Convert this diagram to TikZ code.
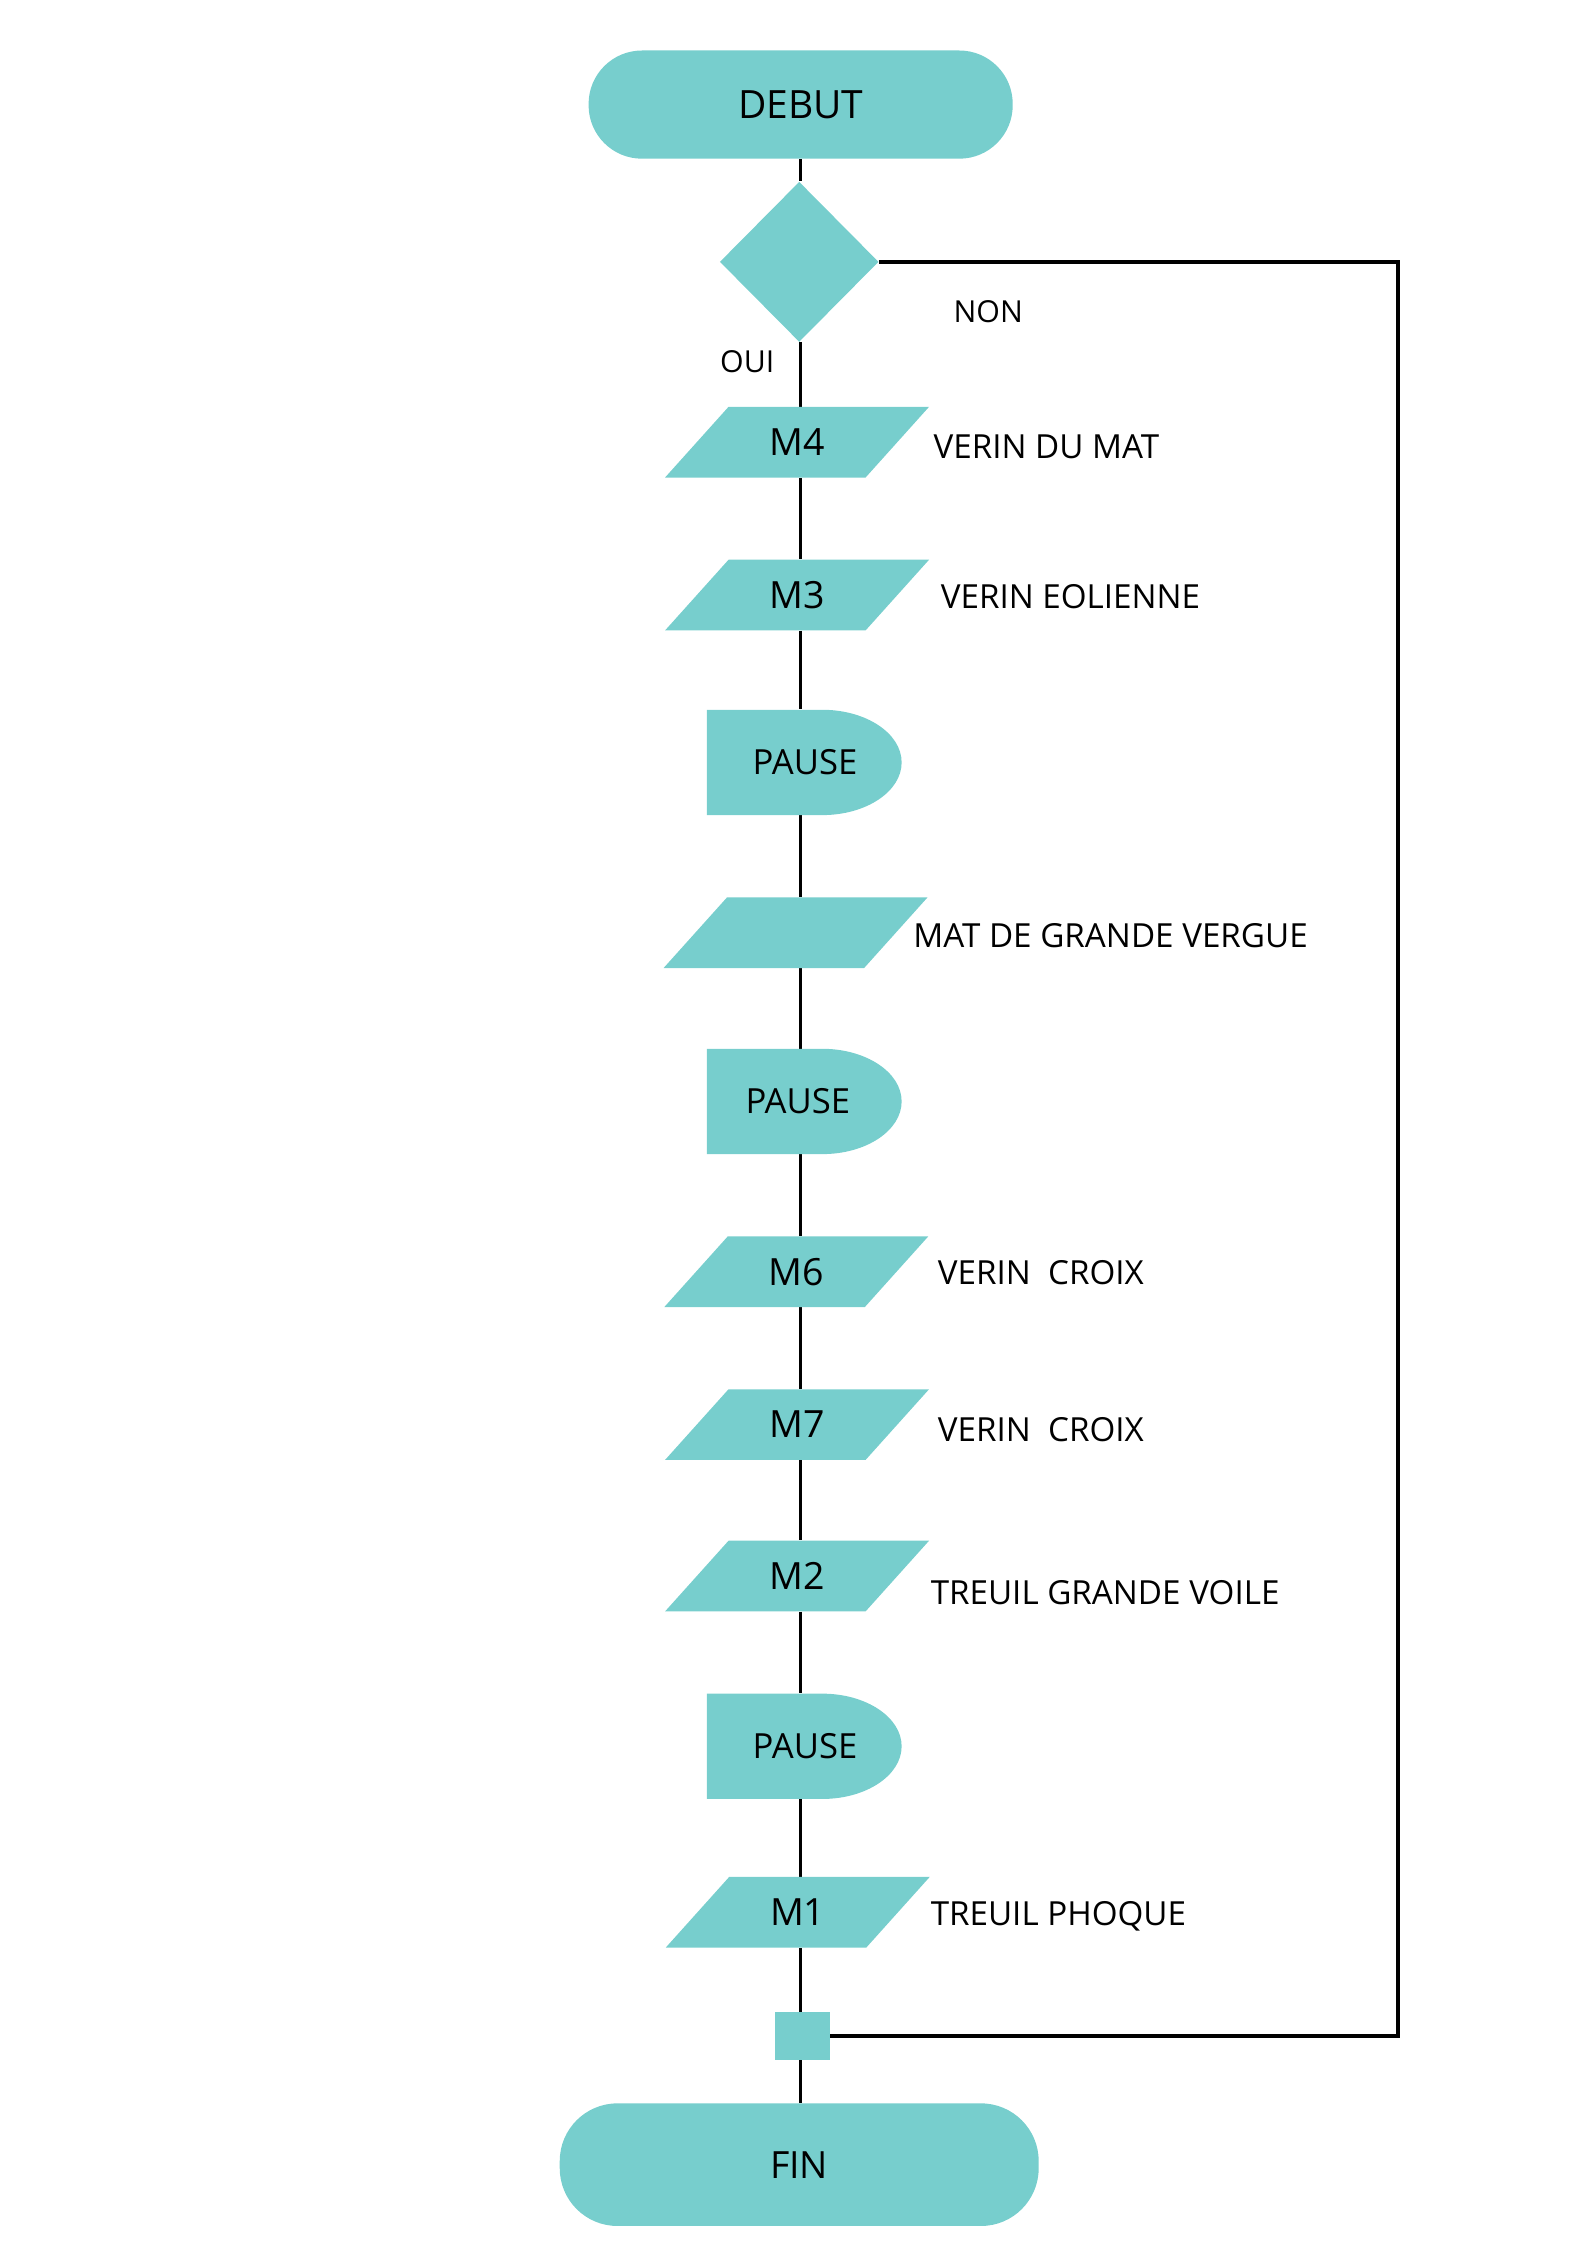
\documentclass[tikz,border=0pt]{standalone}
\usepackage{fontspec}
\setmainfont{Open Sans}
\usetikzlibrary{shapes.geometric,backgrounds}
\definecolor{tealf}{RGB}{119,206,205}
\newcommand\parastep[4]{%
  \fill[tealf] (#2-91.5,#3+24.5) -- (#2-47.5,#3-24.5) -- (#2+91.5,#3-24.5) -- (#2+47.5,#3+24.5) -- cycle;
  \node[mtext] (#1) at (#2,#3) {#4};}
\newcommand\pausestep[4]{%
  \fill[tealf] (490,#2) -- (570,#2) arc[start angle=-90,end angle=90,x radius=55,y radius=36.5] -- (490,#2+73) -- cycle;
  \node[ptext] (#1) at (#3,#2+36.5) {#4};}
\begin{document}
\begin{tikzpicture}[x=1pt,y=-1pt,
  pill/.style={fill=tealf,inner sep=0pt},
  mtext/.style={inner sep=0pt,minimum width=183pt,minimum height=49pt,font=\fontsize{26}{26}\selectfont},
  ptext/.style={inner sep=0pt,minimum width=135pt,minimum height=73pt,font=\fontsize{24}{24}\selectfont},
  lbl/.style={anchor=base west,inner sep=0pt,font=\fontsize{23}{23}\selectfont},
  small/.style={inner sep=0pt,font=\fontsize{21}{21}\selectfont},
  conn/.style={draw=black,line width=2pt},
  loopline/.style={draw=black,line width=2.6pt}]
\useasboundingbox (0,0) rectangle (1100,1556.2);
\coordinate (spine) at (555,0);
% terminals
\node[pill,rounded corners=37pt,minimum width=294pt,minimum height=75pt,font=\fontsize{27}{27}\selectfont] (debut) at (555,72.5) {DEBUT};
\node[diamond,fill=tealf,inner sep=0pt,minimum width=110pt,minimum height=111pt] (dia) at (554,181.5) {};
\node[small] (non) at (685,216) {NON};
\node[small] (oui) at (518,251) {OUI};
% steps
\parastep{m4}{552.5}{306.5}{M4}
\node[lbl] (l4) at (647,317.5) {VERIN DU MAT};
\parastep{m3}{552.5}{412.5}{M3}
\node[lbl] (l3) at (652,421.5) {VERIN EOLIENNE};
\pausestep{p1}{492}{558}{PAUSE}
\parastep{mat}{551.5}{646.5}{}
\node[lbl] (lmat) at (633,656.5) {MAT DE GRANDE VERGUE};
\pausestep{p2}{727}{553}{PAUSE}
\parastep{m6}{552}{881.5}{M6}
\node[lbl] (l6) at (650,890.5) {VERIN~~CROIX};
\parastep{m7}{552.5}{987.5}{M7}
\node[lbl] (l7) at (650,999.5) {VERIN~~CROIX};
\parastep{m2}{552.5}{1092.5}{M2}
\node[lbl] (l2) at (645,1112.5) {TREUIL GRANDE VOILE};
\pausestep{p3}{1174}{558}{PAUSE}
\parastep{m1}{553}{1325.5}{M1}
\node[lbl] (l1) at (645,1334.5) {TREUIL PHOQUE};
\node[fill=tealf,inner sep=0pt,minimum width=38pt,minimum height=33pt] (junc) at (556,1411.5) {};
\node[pill,rounded corners=40pt,minimum width=332pt,minimum height=85pt,font=\fontsize{26}{26}\selectfont] (fin) at (554,1500.5) {FIN};
% connectors
\begin{scope}[on background layer]
\draw[conn] (debut.south -| spine) -- (dia.north -| spine);
\draw[conn] (dia.south -| spine) -- (m4.north -| spine);
\draw[conn] (m4.south -| spine) -- (m3.north -| spine);
\draw[conn] (m3.south -| spine) -- (p1.north -| spine);
\draw[conn] (p1.south -| spine) -- (mat.north -| spine);
\draw[conn] (mat.south -| spine) -- (p2.north -| spine);
\draw[conn] (p2.south -| spine) -- (m6.north -| spine);
\draw[conn] (m6.south -| spine) -- (m7.north -| spine);
\draw[conn] (m7.south -| spine) -- (m2.north -| spine);
\draw[conn] (m2.south -| spine) -- (p3.north -| spine);
\draw[conn] (p3.south -| spine) -- (m1.north -| spine);
\draw[conn] (m1.south -| spine) -- (junc.north -| spine);
\draw[conn] (junc.south -| spine) -- (fin.north -| spine);
\draw[loopline] (dia.east) -- ++(360,0) |- (junc.east);
\end{scope}
\end{tikzpicture}
\end{document}
